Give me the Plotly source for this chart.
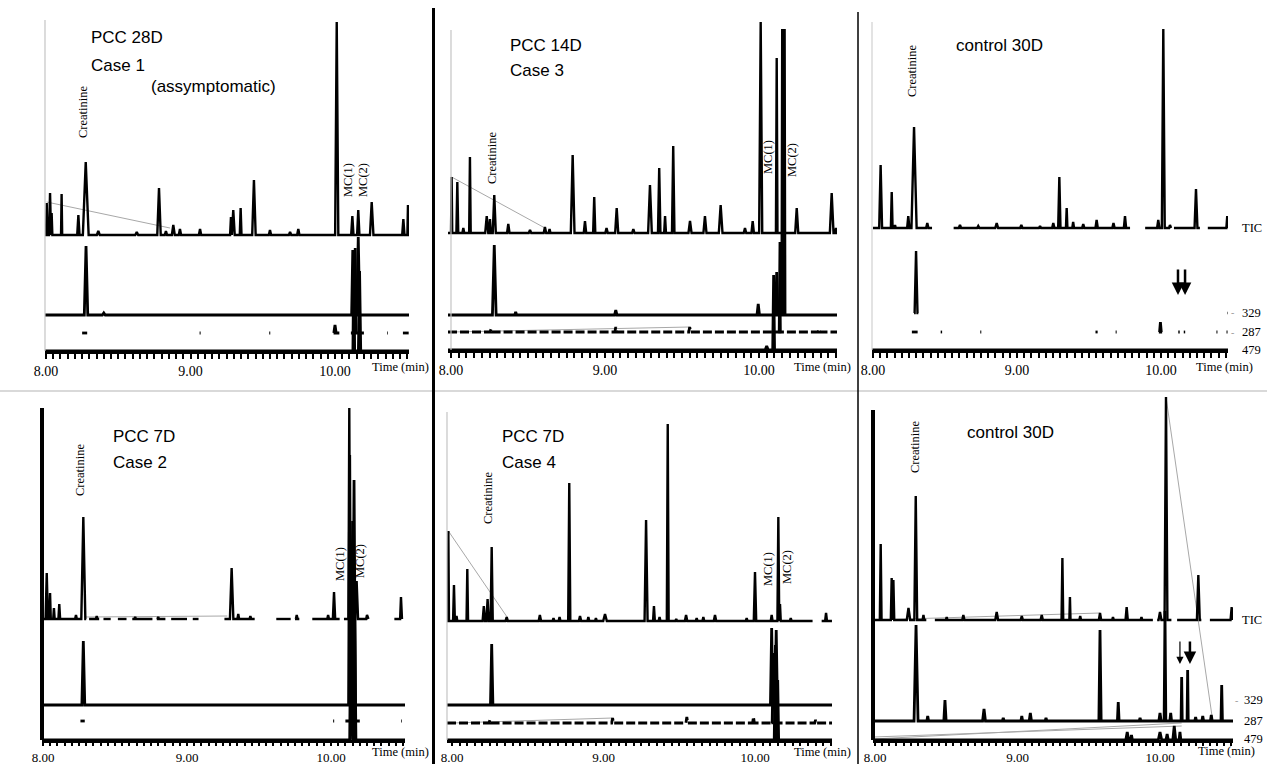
import plotly.graph_objects as go
import numpy as np

W, H = 1267, 764

# ---------------- DATA (retention time in min, intensity in arbitrary units, peak half-width in min) -------------
# Panel 1: PCC 28D Case 1
p1_tic_t = [8.005, 8.028, 8.039, 8.108, 8.224, 8.275, 8.362, 8.628, 8.782, 8.83, 8.881, 8.927, 9.066, 9.28, 9.296, 9.347, 9.439, 9.55, 9.689, 9.746, 10.012, 10.12, 10.161, 10.254, 10.473, 10.505]
p1_tic_h = [32, 42, 22, 41, 20, 73, 4, 3, 47, 4, 10, 6, 6, 18, 25, 27, 55, 5, 3, 6, 213, 19, 25, 33, 16, 30]
p1_tic_w = [0.005, 0.007, 0.005, 0.004, 0.008, 0.02, 0.01, 0.01, 0.012, 0.008, 0.01, 0.008, 0.008, 0.006, 0.01, 0.006, 0.012, 0.008, 0.008, 0.008, 0.011, 0.008, 0.008, 0.012, 0.008, 0.004]
p1_329_t = [8.277, 8.40, 10.123, 10.161]
p1_329_h = [69, 2, 65, 78]
p1_329_w = [0.012, 0.01, 0.008, 0.01]
p1_287_t = [10.0, 10.14]
p1_287_h = [8, 85]
p1_287_w = [0.008, 0.006]
p1_287_seen = [(8.25, 8.285), (9.063, 9.07), (9.545, 9.552), (9.99, 10.03), (10.11, 10.2), (10.36, 10.365), (10.47, 10.51)]
p1_479_t = [10.13, 10.17]
p1_479_h = [95, 80]
p1_479_w = [0.006, 0.008]
p1_ghost_t = [8.005, 8.858]
p1_ghost_h = [33, 7]

# Panel 2: PCC 14D Case 3
p2_tic_t = [8.004, 8.041, 8.08, 8.123, 8.232, 8.253, 8.281, 8.372, 8.513, 8.61, 8.64, 8.79, 8.87, 8.93, 9.01, 9.076, 9.184, 9.292, 9.352, 9.39, 9.443, 9.552, 9.649, 9.751, 9.909, 9.959, 10.011, 10.115, 10.158, 10.245, 10.472, 10.5]
p2_tic_h = [56, 51, 5, 76, 17, 14, 38, 9, 3, 6, 4, 78, 12, 36, 5, 25, 4, 48, 65, 17, 87, 12, 17, 28, 5, 12, 211, 175, 204, 25, 40, 5]
p2_tic_w = [0.004, 0.006, 0.006, 0.005, 0.01, 0.006, 0.01, 0.008, 0.008, 0.008, 0.006, 0.012, 0.008, 0.007, 0.008, 0.01, 0.008, 0.012, 0.008, 0.006, 0.008, 0.01, 0.01, 0.012, 0.008, 0.008, 0.01, 0.005, 0.007, 0.01, 0.012, 0.005]
p2_329_t = [8.281, 8.42, 9.07, 9.995, 10.115, 10.152, 10.165]
p2_329_h = [70, 3, 5, 11, 43, 286, 286]
p2_329_w = [0.012, 0.006, 0.008, 0.008, 0.008, 0.004, 0.004]
p2_287_t = [8.26, 9.07, 9.55, 10.39]
p2_287_h = [3, 5, 5, 3]
p2_287_w = [0.006, 0.006, 0.006, 0.006]
p2_287mc_t = [10.135]
p2_287mc_h = [90]
p2_287mc_w = [0.005]
p2_479_t = [10.05, 10.095]
p2_479_h = [4, 75]
p2_479_w = [0.01, 0.006]
p2_ghost_t = [8.004, 8.61]
p2_ghost_h = [56, 5]
p2_ghost287_t = [8.0, 9.55]
p2_ghost287_h = [0, 5]

# Panel 3: control 30D (top)
p3_tic_t = [8.053, 8.13, 8.153, 8.245, 8.285, 8.377, 8.604, 8.731, 8.859, 9.03, 9.16, 9.252, 9.294, 9.345, 9.39, 9.46, 9.553, 9.67, 9.75, 9.981, 10.016, 10.062, 10.243, 10.46]
p3_tic_h = [63, 36, 3, 12, 101, 5, 3, 2, 5, 3, 2, 5, 51, 20, 6, 4, 8, 5, 12, 8, 199, 3, 39, 12]
p3_tic_w = [0.01, 0.006, 0.005, 0.008, 0.018, 0.008, 0.008, 0.008, 0.01, 0.008, 0.008, 0.008, 0.008, 0.005, 0.006, 0.008, 0.008, 0.008, 0.008, 0.008, 0.01, 0.006, 0.01, 0.006]
p3_tic_seen = [(8.0, 8.41), (8.56, 9.785), (9.89, 10.07), (10.09, 10.27), (10.325, 10.467)]
p3_329_t = [8.299]
p3_329_h = [62]
p3_329_w = [0.01]
p3_329_seen = [(8.285, 8.315), (10.462, 10.467)]
p3_287_t = [9.996]
p3_287_h = [10]
p3_287_w = [0.006]
p3_287_seen = [(8.27, 8.31), (8.47, 8.48), (8.745, 8.752), (9.545, 9.56), (9.685, 9.692), (9.985, 10.008), (10.12, 10.13), (10.158, 10.168), (10.385, 10.392), (10.455, 10.462)]
p3_arrow_t = [10.118, 10.167]

# Panel 4: PCC 7D Case 2
p4_tic_t = [8.026, 8.049, 8.076, 8.113, 8.229, 8.28, 8.373, 8.64, 8.80, 9.31, 9.356, 9.44, 9.762, 9.98, 10.021, 10.127, 10.178, 10.25, 10.486]
p4_tic_h = [46, 26, 11, 15, 4, 102, 3, 2, 2, 51, 5, 3, 4, 4, 27, 211, 38, 4, 22]
p4_tic_w = [0.008, 0.005, 0.005, 0.006, 0.006, 0.014, 0.006, 0.006, 0.006, 0.012, 0.006, 0.006, 0.006, 0.006, 0.008, 0.006, 0.01, 0.006, 0.006]
p4_tic_seen = [(7.993, 8.30), (8.32, 8.39), (8.42, 8.47), (8.52, 8.58), (8.62, 8.76), (8.79, 8.85), (8.89, 9.0), (9.04, 9.08), (9.26, 9.47), (9.62, 9.72), (9.75, 9.78), (9.87, 10.06), (10.09, 10.26), (10.44, 10.493)]
p4_329_t = [8.28, 10.13, 10.16]
p4_329_h = [64, 250, 225]
p4_329_w = [0.01, 0.008, 0.01]
p4_287_t = [10.15]
p4_287_h = [200]
p4_287_w = [0.012]
p4_287_seen = [(8.26, 8.29), (10.015, 10.022), (10.10, 10.2), (10.488, 10.493)]
p4_479_t = [10.14, 10.165]
p4_479_h = [170, 120]
p4_479_w = [0.01, 0.008]
p4_ghost_t = [8.285, 9.28]
p4_ghost_h = [2, 3]

# Panel 5: PCC 7D Case 4
p5_tic_t = [7.976, 8.013, 8.03, 8.101, 8.21, 8.235, 8.262, 8.361, 8.58, 8.67, 8.71, 8.774, 8.845, 8.90, 8.95, 9.01, 9.281, 9.333, 9.37, 9.424, 9.48, 9.545, 9.615, 9.659, 9.736, 9.945, 10.0, 10.11, 10.154, 10.165, 10.236, 10.469]
p5_tic_h = [90, 36, 5, 52, 15, 22, 74, 4, 6, 3, 4, 138, 5, 4, 3, 7, 101, 15, 4, 197, 2, 6, 3, 4, 6, 3, 49, 6, 104, 17, 3, 8]
p5_tic_w = [0.004, 0.006, 0.005, 0.005, 0.008, 0.008, 0.007, 0.008, 0.008, 0.006, 0.006, 0.007, 0.008, 0.006, 0.006, 0.012, 0.01, 0.006, 0.006, 0.006, 0.006, 0.008, 0.006, 0.006, 0.008, 0.006, 0.008, 0.006, 0.006, 0.005, 0.006, 0.006]
p5_tic_seen = [(7.967, 10.38), (10.44, 10.508)]
p5_329_t = [8.262, 10.11, 10.14]
p5_329_h = [61, 77, 75]
p5_329_w = [0.008, 0.008, 0.008]
p5_287_t = [8.25, 9.06, 9.55, 9.99, 10.40]
p5_287_h = [3, 5, 6, 6, 3]
p5_287_w = [0.006, 0.006, 0.006, 0.006, 0.006]
p5_287mc_t = [10.12]
p5_287mc_h = [70]
p5_287mc_w = [0.008]
p5_479_t = [10.135, 10.15]
p5_479_h = [95, 60]
p5_479_w = [0.008, 0.006]
p5_ghost_t = [7.976, 8.368]
p5_ghost_h = [90, 3]
p5_ghost287_t = [8.0, 9.06]
p5_ghost287_h = [0, 5]

# Panel 6: control 30D (bottom)
p6_tic_t = [8.04, 8.117, 8.129, 8.235, 8.286, 8.34, 8.503, 8.62, 8.854, 9.03, 9.17, 9.315, 9.368, 9.44, 9.579, 9.67, 9.766, 9.87, 10.0, 10.042, 10.269, 10.503]
p6_tic_h = [76, 42, 40, 12, 124, 5, 3, 5, 8, 4, 5, 62, 23, 4, 7, 3, 13, 3, 8, 223, 45, 13]
p6_tic_w = [0.006, 0.006, 0.006, 0.012, 0.01, 0.006, 0.006, 0.008, 0.01, 0.008, 0.008, 0.006, 0.004, 0.006, 0.008, 0.006, 0.008, 0.006, 0.01, 0.01, 0.01, 0.008]
p6_tic_seen = [(7.986, 8.36), (8.42, 9.95), (9.98, 10.08), (10.12, 10.29), (10.35, 10.512)]
p6_287_t = [8.288, 8.37, 8.491, 8.765, 8.9, 9.03, 9.09, 9.2, 9.579, 9.707, 9.86, 10.0, 10.035, 10.075, 10.152, 10.194, 10.25, 10.30, 10.36, 10.433]
p6_287_h = [96, 5, 21, 12, 3, 5, 8, 3, 91, 19, 3, 8, 110, 8, 44, 51, 4, 5, 6, 36]
p6_287_w = [0.014, 0.006, 0.008, 0.01, 0.006, 0.006, 0.008, 0.006, 0.008, 0.006, 0.006, 0.008, 0.006, 0.006, 0.004, 0.004, 0.006, 0.006, 0.006, 0.005]
p6_479_t = [9.77, 9.8, 10.0, 10.05, 10.1, 10.14]
p6_479_h = [8, 5, 8, 6, 14, 8]
p6_479_w = [0.01, 0.006, 0.012, 0.008, 0.01, 0.006]
p6_ghost_t = [10.042, 10.364]
p6_ghost_h = [223, -95]
p6_ghostbase_t = [7.986, 9.579]
p6_ghostbase_h = [0, 7]
p6_ghost479a_t = [7.986, 10.152]
p6_ghost479a_h = [1, 17]
p6_ghost479b_t = [7.986, 10.152]
p6_ghost479b_h = [3, 14]
p6_arrow_t = [10.14, 10.21]

tick_labels = ["8.00", "9.00", "10.00"]
tick_values = [8.0, 9.0, 10.0]

# ---------------- LAYOUT GEOMETRY (pixels) ----------------
PANELS = [
    dict(x0=45, x1=409, px8=46, ppm=144.5, axis=351, top=5, tic=116, c329=36, c287=18),
    dict(x0=448, x1=837, px8=451, ppm=154.0, axis=350, top=5, tic=117, c329=35, c287=18),
    dict(x0=872, x1=1228, px8=873, ppm=144.0, axis=350, top=5, tic=122, c329=37, c287=18),
    dict(x0=42, x1=405, px8=43, ppm=144.0, axis=740, top=395, tic=121, c329=35, c287=19),
    dict(x0=447, x1=832, px8=452, ppm=151.5, axis=740, top=395, tic=119, c329=35, c287=17),
    dict(x0=873, x1=1233, px8=875, ppm=142.5, axis=740, top=395, tic=120, c329=40, c287=19),
]
for p in PANELS:
    p["r0"] = 8 + (p["x0"] - p["px8"]) / p["ppm"]
    p["r1"] = 8 + (p["x1"] - p["px8"]) / p["ppm"]


def fx(px):
    return px / W


def fy(py):
    return 1 - py / H


def build(t, h, w, base, windows):
    xs, ys = [], []
    peaks = sorted(zip(t, h, w))
    for a, b in windows:
        xs.append(a); ys.append(base)
        for ti, hi, wi in peaks:
            if a <= ti <= b:
                xs += [ti - wi, ti, ti + wi]
                ys += [base, base + hi, base]
        xs.append(b); ys.append(base)
        xs.append(None); ys.append(None)
    return xs, ys


fig = go.Figure()


def add(pi, t, h, w, chan, windows=None, width=2.4, dash="solid", color="black"):
    p = PANELS[pi]
    base = 0 if chan == "c479" else p[chan]
    if windows is None:
        windows = [(p["r0"], p["r1"])]
    xs, ys = build(t, h, w, base, windows)
    fig.add_trace(go.Scatter(x=xs, y=ys, mode="lines",
                             line=dict(color=color, width=width, dash=dash),
                             xaxis="x" if pi == 0 else f"x{pi+1}",
                             yaxis="y" if pi == 0 else f"y{pi+1}",
                             hoverinfo="skip", showlegend=False))


def ghost(pi, t, h, chan):
    p = PANELS[pi]
    base = 0 if chan == "c479" else p[chan]
    fig.add_trace(go.Scatter(x=t, y=[base + v for v in h], mode="lines",
                             line=dict(color="#a8a8a8", width=1),
                             xaxis="x" if pi == 0 else f"x{pi+1}",
                             yaxis="y" if pi == 0 else f"y{pi+1}",
                             hoverinfo="skip", showlegend=False))


# Panel 1
ghost(0, p1_ghost_t, p1_ghost_h, "tic")
add(0, p1_tic_t, p1_tic_h, p1_tic_w, "tic")
add(0, p1_329_t, p1_329_h, p1_329_w, "c329", width=2.8)
add(0, p1_287_t, p1_287_h, p1_287_w, "c287", windows=p1_287_seen, width=2.8)
add(0, p1_479_t, p1_479_h, p1_479_w, "c479", width=2.8)
# Panel 2
ghost(1, p2_ghost_t, p2_ghost_h, "tic")
ghost(1, p2_ghost287_t, p2_ghost287_h, "c287")
add(1, p2_tic_t, p2_tic_h, p2_tic_w, "tic")
add(1, p2_329_t, p2_329_h, p2_329_w, "c329", width=2.8)
add(1, p2_287_t, p2_287_h, p2_287_w, "c287", width=2.8, dash="9px,3px")
add(1, p2_287mc_t, p2_287mc_h, p2_287mc_w, "c287", windows=[(10.125, 10.145)], width=2.4)
add(1, p2_479_t, p2_479_h, p2_479_w, "c479", width=2.8)
# Panel 3
add(2, p3_tic_t, p3_tic_h, p3_tic_w, "tic", windows=p3_tic_seen)
add(2, p3_329_t, p3_329_h, p3_329_w, "c329", windows=p3_329_seen)
add(2, p3_287_t, p3_287_h, p3_287_w, "c287", windows=p3_287_seen, width=2.8)
add(2, [], [], [], "c479", width=2.8)
# Panel 4
ghost(3, p4_ghost_t, p4_ghost_h, "tic")
add(3, p4_tic_t, p4_tic_h, p4_tic_w, "tic", windows=p4_tic_seen)
add(3, p4_329_t, p4_329_h, p4_329_w, "c329", width=2.8)
add(3, p4_287_t, p4_287_h, p4_287_w, "c287", windows=p4_287_seen, width=2.8)
add(3, p4_479_t, p4_479_h, p4_479_w, "c479", width=2.8)
# Panel 5
ghost(4, p5_ghost_t, p5_ghost_h, "tic")
ghost(4, p5_ghost287_t, p5_ghost287_h, "c287")
add(4, p5_tic_t, p5_tic_h, p5_tic_w, "tic", windows=p5_tic_seen)
add(4, p5_329_t, p5_329_h, p5_329_w, "c329", width=2.8)
add(4, p5_287_t, p5_287_h, p5_287_w, "c287", width=2.8, dash="9px,3px")
add(4, p5_287mc_t, p5_287mc_h, p5_287mc_w, "c287", windows=[(10.108, 10.132)], width=2.4)
add(4, p5_479_t, p5_479_h, p5_479_w, "c479", width=2.8)
# Panel 6
ghost(5, p6_ghost_t, p6_ghost_h, "tic")
ghost(5, p6_ghostbase_t, p6_ghostbase_h, "tic")
ghost(5, p6_ghost479a_t, p6_ghost479a_h, "c479")
ghost(5, p6_ghost479b_t, p6_ghost479b_h, "c479")
add(5, p6_tic_t, p6_tic_h, p6_tic_w, "tic", windows=p6_tic_seen)
add(5, p6_287_t, p6_287_h, p6_287_w, "c287", width=2.8)
add(5, p6_479_t, p6_479_h, p6_479_w, "c479", width=2.8)

# ---------------- AXES ----------------
minor_vals = list(np.round(np.arange(8.0, 10.56, 0.05), 2))
layout = dict(width=W, height=H, margin=dict(l=0, r=0, t=0, b=0, pad=0),
              paper_bgcolor="white", plot_bgcolor="rgba(0,0,0,0)", showlegend=False,
              hovermode=False)
for i, p in enumerate(PANELS):
    xk = "xaxis" if i == 0 else f"xaxis{i+1}"
    yk = "yaxis" if i == 0 else f"yaxis{i+1}"
    texts = [tick_labels[tick_values.index(v)] if v in tick_values else "" for v in minor_vals]
    bottom = i >= 3
    layout[xk] = dict(domain=[fx(p["x0"]), fx(p["x1"])], range=[p["r0"], p["r1"]],
                      anchor="y" if i == 0 else f"y{i+1}",
                      showline=True, linecolor="black", linewidth=3,
                      ticks="outside", ticklen=3 if bottom else 5, tickwidth=2, tickcolor="black",
                      tickmode="array", tickvals=minor_vals, ticktext=texts,
                      tickfont=dict(family="Liberation Serif", size=13 if bottom else 14, color="black"),
                      showgrid=False, zeroline=False, fixedrange=True, automargin=False)
    layout[yk] = dict(domain=[fy(p["axis"]), fy(p["top"])], range=[0, p["axis"] - p["top"]],
                      anchor="x" if i == 0 else f"x{i+1}",
                      visible=False, fixedrange=True, automargin=False)
fig.update_layout(**layout)

# ---------------- SHAPES ----------------
shapes = []


def vline(px, py0, py1, color, width):
    shapes.append(dict(type="line", xref="paper", yref="paper", x0=fx(px), x1=fx(px),
                       y0=fy(py0), y1=fy(py1), line=dict(color=color, width=width)))


def hline(py, px0, px1, color, width):
    shapes.append(dict(type="line", xref="paper", yref="paper", x0=fx(px0), x1=fx(px1),
                       y0=fy(py), y1=fy(py), line=dict(color=color, width=width)))


hline(391, 0, W, "#cccccc", 1.5)
vline(433.5, 8, 764, "black", 3)
vline(858, 12, 764, "black", 1.5)
vline(45, 20, 351, "#c4c4c4", 1.2)
vline(451, 30, 350, "#c4c4c4", 1.2)
vline(872, 22, 350, "#d0d0d0", 1.2)
vline(42, 408, 740, "black", 4)
vline(447, 412, 740, "#c4c4c4", 1.2)
vline(873, 410, 740, "black", 4)
fig.update_layout(shapes=shapes)

# ---------------- ANNOTATIONS ----------------
ann = []
SANS = "Liberation Sans"
SERIF = "Liberation Serif"


def txt(text, px, py, size, family, xanchor="left", angle=0, color="black"):
    ann.append(dict(text=text, x=fx(px), y=fy(py), xref="paper", yref="paper",
                    xanchor=xanchor, yanchor="middle", showarrow=False, textangle=angle,
                    font=dict(family=family, size=size, color=color)))


# panel titles
txt("PCC 28D", 89, 38, 17, SANS)
txt("Case 1", 89, 65, 17, SANS)
txt("(assymptomatic)", 149, 87, 17, SANS)
txt("PCC 14D", 508, 45, 17, SANS)
txt("Case 3", 508, 70, 17, SANS)
txt("control 30D", 954, 45, 17, SANS)
txt("PCC 7D", 111, 436, 17, SANS)
txt("Case 2", 111, 462, 17, SANS)
txt("PCC 7D", 500, 436, 17, SANS)
txt("Case 4", 500, 462, 17, SANS)
txt("control 30D", 965, 432, 17, SANS)

# compound labels (rotated)
for (px, py) in [(83, 112), (492, 158), (912, 71), (80, 470), (488, 498), (915, 447)]:
    txt("Creatinine", px, py, 12.5, SERIF, xanchor="center", angle=-90)
for (px, py, s) in [(348, 180, "MC(1)"), (363, 180, "MC(2)"), (768, 157, "MC(1)"), (792, 160, "MC(2)"),
                    (340, 564, "MC(1)"), (360, 561, "MC(2)"), (768, 569, "MC(1)"), (787, 567, "MC(2)")]:
    txt(s, px, py, 12.5, SERIF, xanchor="center", angle=-90)

# time axis titles
for (px, py) in [(400, 367), (822, 367), (1224, 367), (400, 752), (822, 752), (1226, 751)]:
    txt("Time (min)", px, py, 12.5, SERIF, xanchor="center")

# channel labels
for (s, px, py) in [("TIC", 1240, 228), ("329", 1240, 313), ("287", 1240, 332), ("479", 1240, 350),
                    ("TIC", 1240, 620), ("329", 1242, 700), ("287", 1242, 721), ("479", 1242, 739)]:
    txt(s, px, py, 12.5, SERIF)
for (px, py) in [(1229, 313), (1229, 332), (1233, 700)]:
    txt("-", px, py, 10, SERIF, color="#999999")

# arrows (point at retention positions)
for t in p3_arrow_t:
    ann.append(dict(x=t, y=55, xref="x3", yref="y3", text="", showarrow=True,
                    ax=0, ay=-27, arrowhead=2, arrowsize=1, arrowwidth=2.5, arrowcolor="black"))
for t, wdt in zip(p6_arrow_t, [1.2, 2.5]):
    ann.append(dict(x=t, y=76, xref="x6", yref="y6", text="", showarrow=True,
                    ax=0, ay=-24, arrowhead=2, arrowsize=1.2 if wdt < 2 else 1, arrowwidth=wdt,
                    arrowcolor="black"))

fig.update_layout(annotations=ann)
fig.write_html("out.html", config={"displayModeBar": False, "staticPlot": True},
               post_script="document.body.style.margin='0';document.body.style.padding='0';"
                           "document.body.style.overflow='hidden';"
                           "document.documentElement.style.overflow='hidden';")
